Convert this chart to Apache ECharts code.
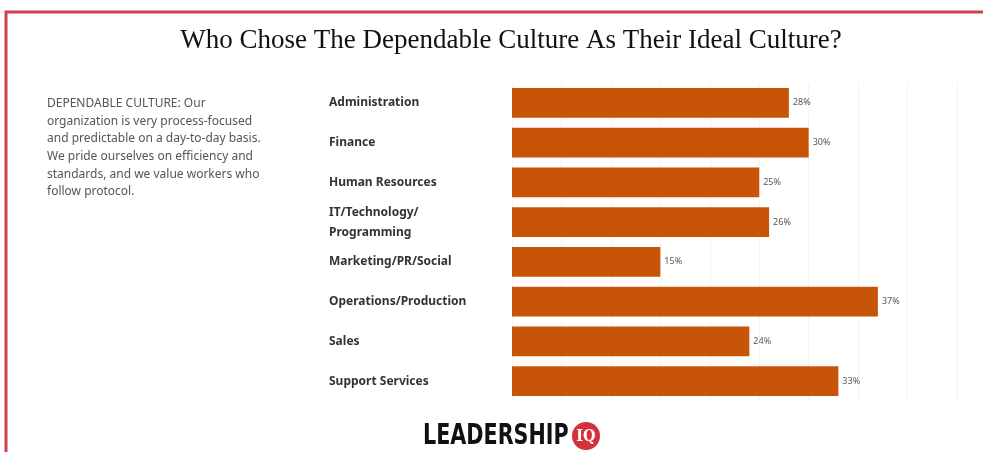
<!DOCTYPE html>
<html>
<head>
<meta charset="utf-8">
<script src="https://cdn.jsdelivr.net/npm/echarts@6/dist/echarts.min.js"></script>
<style>
  html, body { margin: 0; padding: 0; background: #fff; }
  #main { width: 983px; height: 452px; }
</style>
</head>
<body>
<div id="main"></div>
<script>
// data
const departments = [
  'Administration',
  'Finance',
  'Human Resources',
  'IT/Technology/\nProgramming',
  'Marketing/PR/Social',
  'Operations/Production',
  'Sales',
  'Support Services'
]
const shares = [28, 30, 25, 26, 15, 37, 24, 33]

const descLines = [
  'DEPENDABLE CULTURE: Our',
  'organization is very process-focused',
  'and predictable on a day-to-day basis.',
  'We pride ourselves on efficiency and',
  'standards, and we value workers who',
  'follow protocol.'
]

const myChart = echarts.init(document.getElementById('main'))
const option = {
  backgroundColor: '#fff',
  animation: false,
  title: {
    text: 'Who Chose The Dependable Culture As Their Ideal Culture?',
    left: 506,
    textAlign: 'center',
    top: 22,
    textStyle: {
      fontFamily: 'Liberation Serif',
      fontWeight: 'normal',
      fontSize: 27,
      color: '#111'
    }
  },
  grid: {
    left: 512,
    right: 26,
    top: 83,
    bottom: 51,
    containLabel: false
  },
  xAxis: {
    type: 'value',
    min: 0,
    max: 45,
    interval: 5,
    axisLabel: { show: false },
    axisLine: { show: false },
    axisTick: { show: false },
    splitLine: { lineStyle: { color: '#f3f3f3', width: 1 } }
  },
  yAxis: {
    type: 'category',
    inverse: true,
    data: departments,
    axisLine: { show: false },
    axisTick: { show: false },
    axisLabel: {
      align: 'left',
      margin: 183,
      fontFamily: 'Noto Sans',
      fontWeight: 'bold',
      fontSize: 12,
      lineHeight: 20,
      color: '#333'
    }
  },
  series: [
    {
      type: 'bar',
      data: shares,
      barCategoryGap: '25%',
      itemStyle: { color: '#c85408' },
      label: {
        show: true,
        position: 'right',
        distance: 4,
        formatter: '{c}%',
        fontFamily: 'Noto Sans',
        fontSize: 9,
        color: '#555'
      }
    }
  ],
  graphic: [
    // red frame
    {
      type: 'polyline',
      shape: { points: [[6, 452], [6, 12], [983, 12]] },
      style: { stroke: '#d2404f', lineWidth: 3, fill: null }
    },
    {
      type: 'text',
      left: 47,
      top: 95,
      style: {
        text: descLines.join('\n'),
        fontFamily: 'Noto Sans',
        fontSize: 12,
        lineHeight: 17.6,
        fill: '#555'
      }
    },
    // logo
    {
      type: 'text',
      x: 423,
      y: 437,
      scaleY: 1.2,
      style: {
        text: 'LEADERSHIP',
        verticalAlign: 'middle',
        fontFamily: 'DejaVu Sans Condensed',
        fontWeight: 'bold',
        fontSize: 23,
        fill: '#111'
      }
    },
    {
      type: 'circle',
      shape: { cx: 586, cy: 436, r: 14 },
      style: { fill: '#d3313b' }
    },
    {
      type: 'text',
      x: 586,
      y: 437,
      style: {
        text: 'IQ',
        align: 'center',
        verticalAlign: 'middle',
        fontFamily: 'DejaVu Serif Condensed',
        fontWeight: 'bold',
        fontSize: 16,
        fill: '#fff'
      }
    }
  ]
}
myChart.setOption(option)
</script>
</body>
</html>
